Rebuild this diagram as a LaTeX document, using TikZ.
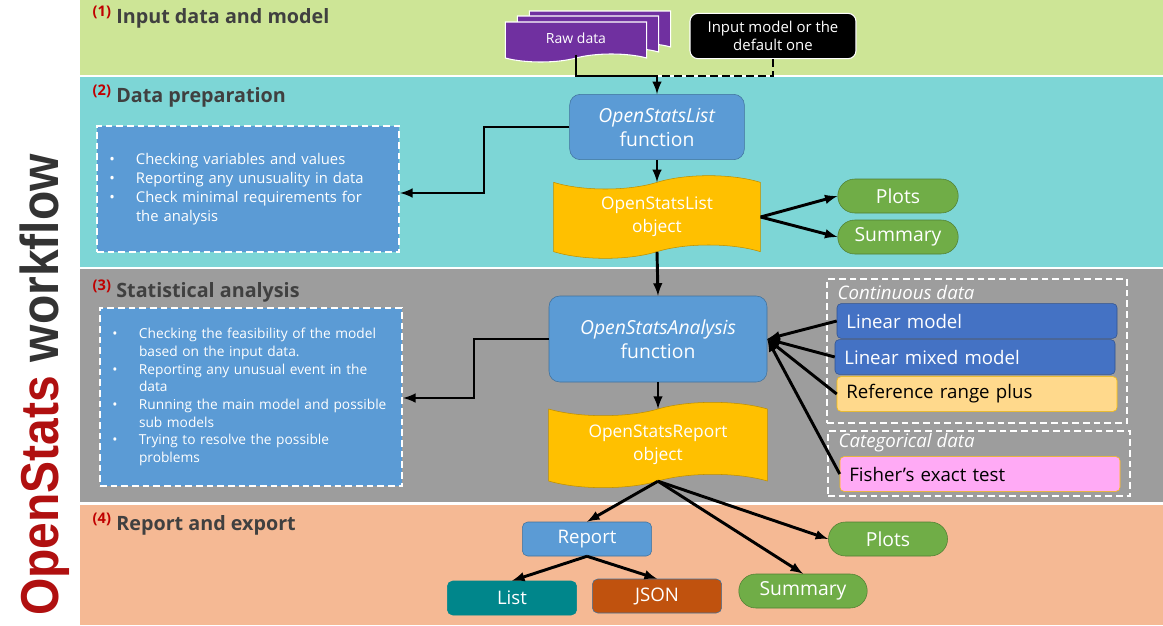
\documentclass[tikz,border=0pt]{standalone}
\usepackage{fontspec}
\setmainfont{Open Sans}
\newfontfamily\titlefont[FakeStretch=0.9]{Liberation Sans}
\usetikzlibrary{arrows,shapes.symbols,shapes.misc}

\definecolor{bandinput}{RGB}{205,229,150}
\definecolor{bandprep}{RGB}{125,214,214}
\definecolor{bandstat}{RGB}{157,157,157}
\definecolor{bandreport}{RGB}{245,185,148}
\definecolor{funcblue}{RGB}{91,155,213}
\definecolor{funcedge}{RGB}{65,113,156}
\definecolor{objyellow}{RGB}{255,192,0}
\definecolor{objedge}{RGB}{191,144,0}
\definecolor{outgreen}{RGB}{112,173,71}
\definecolor{outedge}{RGB}{80,126,50}
\definecolor{lmblue}{RGB}{68,114,196}
\definecolor{lmedge}{RGB}{47,82,143}
\definecolor{rangeorange}{RGB}{255,217,140}
\definecolor{fisherpink}{RGB}{255,170,245}
\definecolor{rawpurple}{RGB}{112,48,160}
\definecolor{listteal}{RGB}{0,134,139}
\definecolor{jsonbrown}{RGB}{192,82,14}
\definecolor{headgray}{RGB}{64,64,64}
\definecolor{numred}{RGB}{192,0,0}
\definecolor{titlered}{RGB}{176,16,16}
\definecolor{titlegray}{RGB}{51,51,51}

\newcommand{\bitem}{\makebox[20pt][l]{\textbullet}}
\newcommand{\bcont}{\hspace*{20pt}}
\newcommand{\stagehead}[2]{{\color{numred}\raisebox{5pt}{\fontsize{11}{11}\selectfont(#1)}}\hspace{4pt}#2}

\begin{document}
\begin{tikzpicture}
          [x=0.75pt,y=-0.75pt,>=latex,
          func/.style={rectangle,rounded corners=8pt,draw=funcedge,fill=funcblue,text=white,align=center,font=\fontsize{14.5}{18}\selectfont},
          object/.style={tape,tape bend height=10pt,draw=objedge,fill=objyellow,text=white,align=center,font=\fontsize{13}{17}\selectfont},
          result/.style={rounded rectangle,draw=outedge,fill=outgreen,text=white,minimum height=25.5pt,font=\fontsize{14.5}{16}\selectfont},
          notes/.style={rectangle,draw=white,line width=1.6pt,dash pattern=on 5pt off 3pt,fill=funcblue,text=white,align=left,inner xsep=9pt,minimum width=226.5pt},
          method/.style={rectangle,rounded corners=3pt,minimum width=210pt,minimum height=26pt,text width=196pt,inner xsep=7pt,align=left,font=\fontsize{14}{16}\selectfont},
          group/.style={rectangle,draw=white,line width=1.6pt,dash pattern=on 5pt off 3pt},
          grouplabel/.style={anchor=west,text=white,font=\itshape\fontsize{14}{16}\selectfont},
          export/.style={rectangle,rounded corners=4pt,minimum width=97pt,minimum height=25.5pt,text=white,font=\fontsize{14}{16}\selectfont},
          rawsheet/.style={tape,tape bend top=none,tape bend height=6pt,draw=white,thick,fill=rawpurple,minimum width=106pt,minimum height=30pt},
          heading/.style={anchor=west,text=headgray,font=\bfseries\fontsize{14.8}{16}\selectfont},
          link/.style={->,line width=2.2pt}]
          \useasboundingbox (0,0) rectangle (1163,625);
          \fill[white] (0,0) rectangle (1163,625);
          % stage bands
          \fill[bandinput]  (80,0)   rectangle (1163,75);
          \fill[bandprep]   (80,77)  rectangle (1163,267);
          \fill[bandstat]   (80,269) rectangle (1163,502);
          \fill[bandreport] (80,505) rectangle (1163,625);
          \node[rotate=90,font=\titlefont\bfseries\fontsize{40}{40}\selectfont] (title) at (45,385)
          {\color{titlered}OpenStats \color{titlegray}workflow};
          \node[heading] (head1) at (88,17)  {\stagehead{1}{Input data and model}};
          \node[heading] (head2) at (88,96)  {\stagehead{2}{Data preparation}};
          \node[heading] (head3) at (88,291) {\stagehead{3}{Statistical analysis}};
          \node[heading] (head4) at (88,524) {\stagehead{4}{Report and export}};
          % (1) input
          \node[rawsheet] (rawback2) at (600,27) {};
          \node[rawsheet] (rawback1) at (588,32) {};
          \node[rawsheet,text=white,font=\fontsize{10.5}{12}\selectfont] (raw) at (576,38) {Raw data};
          \node[rectangle,rounded corners=6pt,draw=white,thick,fill=black,text=white,align=center,
                minimum width=124.5pt,minimum height=34pt,font=\fontsize{11.2}{13.5}\selectfont]
                (inmodel) at (773,36) {Input model or the\\default one};
          % (2) data preparation
          \node[func,minimum width=131pt,minimum height=49pt] (oslfun) at (657,127) {\textit{OpenStatsList}\\function};
          \node[notes,minimum height=94.5pt,text width=208pt,font=\fontsize{11.1}{14.25}\selectfont] (prepnotes) at (248,189)
          {\bitem Checking variables and values\\\bitem Reporting any unusuality in data\\\bitem Check minimal requirements for\\\bcont the analysis};
          \node[object,minimum width=155pt,minimum height=62pt] (oslobj) at (657,217) {OpenStatsList\\object};
          \node[result,minimum width=97pt] (plots)   at (898,196) {Plots};
          \node[result,minimum width=97pt] (summary) at (898,237) {Summary};
          % (3) statistical analysis
          \node[func,minimum width=163.5pt,minimum height=64.5pt] (osafun) at (658,339) {\textit{OpenStatsAnalysis}\\function};
          \node[notes,minimum height=133.5pt,text width=208pt,font=\fontsize{10.3}{13.3}\selectfont] (statnotes) at (251,397)
          {\bitem Checking the feasibility of the model\\\bcont based on the input data.\\\bitem Reporting any unusual event in the\\\bcont data\\\bitem Running the main model and possible\\\bcont sub models\\\bitem Trying to resolve the possible\\\bcont problems};
          \node[object,minimum width=164pt,minimum height=64pt] (osrobj) at (658,445) {OpenStatsReport\\object};
          \node[group,minimum width=225pt,minimum height=108pt] (contgroup) at (977,351) {};
          \node[grouplabel] (contlabel) at (833,292) {Continuous data};
          \node[method,fill=lmblue,draw=lmedge,text=white] (lm)  at (977,321) {Linear model};
          \node[method,fill=lmblue,draw=lmedge,text=white] (lmm) at (975,357) {Linear mixed model};
          \node[method,fill=rangeorange,draw=objyellow] (refrange) at (977,394) {Reference range plus};
          \node[group,minimum width=226.5pt,minimum height=48.75pt] (catgroup) at (979,463.5) {};
          \node[grouplabel] (catlabel) at (834,443) {Categorical data};
          \node[method,fill=fisherpink,draw=objyellow] (fisher) at (980,474) {Fisher's exact test};
          % (4) report and export
          \node[export,fill=funcblue,draw=funcedge] (report) at (587,539) {Report};
          \node[export,fill=listteal,draw=listteal] (list)   at (512,598) {List};
          \node[export,fill=jsonbrown,draw=funcedge] (json)  at (657,596) {JSON};
          \node[result,minimum width=96pt]  (plotsout)   at (888,539) {Plots};
          \node[result,minimum width=103pt] (summaryout) at (803,591) {Summary};
          % connectors
          \coordinate (inputjoin) at (657,76);
          \draw[line width=2.2pt] (raw.south) |- (inputjoin);
          \draw[line width=2.2pt,dash pattern=on 6pt off 3pt] (inmodel.south) |- (inputjoin);
          \draw[link] (inputjoin) -- (oslfun.north);
          \coordinate (prepbend) at (484,193);
          \draw[link] (oslfun.west) -| (prepbend) -- (prepbend -| prepnotes.east);
          \draw[link] (oslfun.south) -- (oslobj.north);
          \draw[link] (oslobj.east) -- (plots.west);
          \draw[link] (oslobj.east) -- (summary.west);
          \draw[link] (oslobj.south) -- (osafun.north);
          \coordinate (statbend) at (474,398);
          \draw[link] (osafun.west) -| (statbend) -- (statbend -| statnotes.east);
          \foreach \m in {lm,lmm,refrange,fisher}
            \draw[link] (\m.west) -- (osafun.east);
          \draw[link] (osafun.south) -- (osrobj.north);
          \draw[link] (osrobj.south) -- (report.north);
          \draw[link] (osrobj.south) -- (plotsout.west);
          \draw[link] (osrobj.south) -- (summaryout.north);
          \draw[link] (report.south) -- (list.north);
          \draw[link] (report.south) -- (json.north);
\end{tikzpicture}
\end{document}
